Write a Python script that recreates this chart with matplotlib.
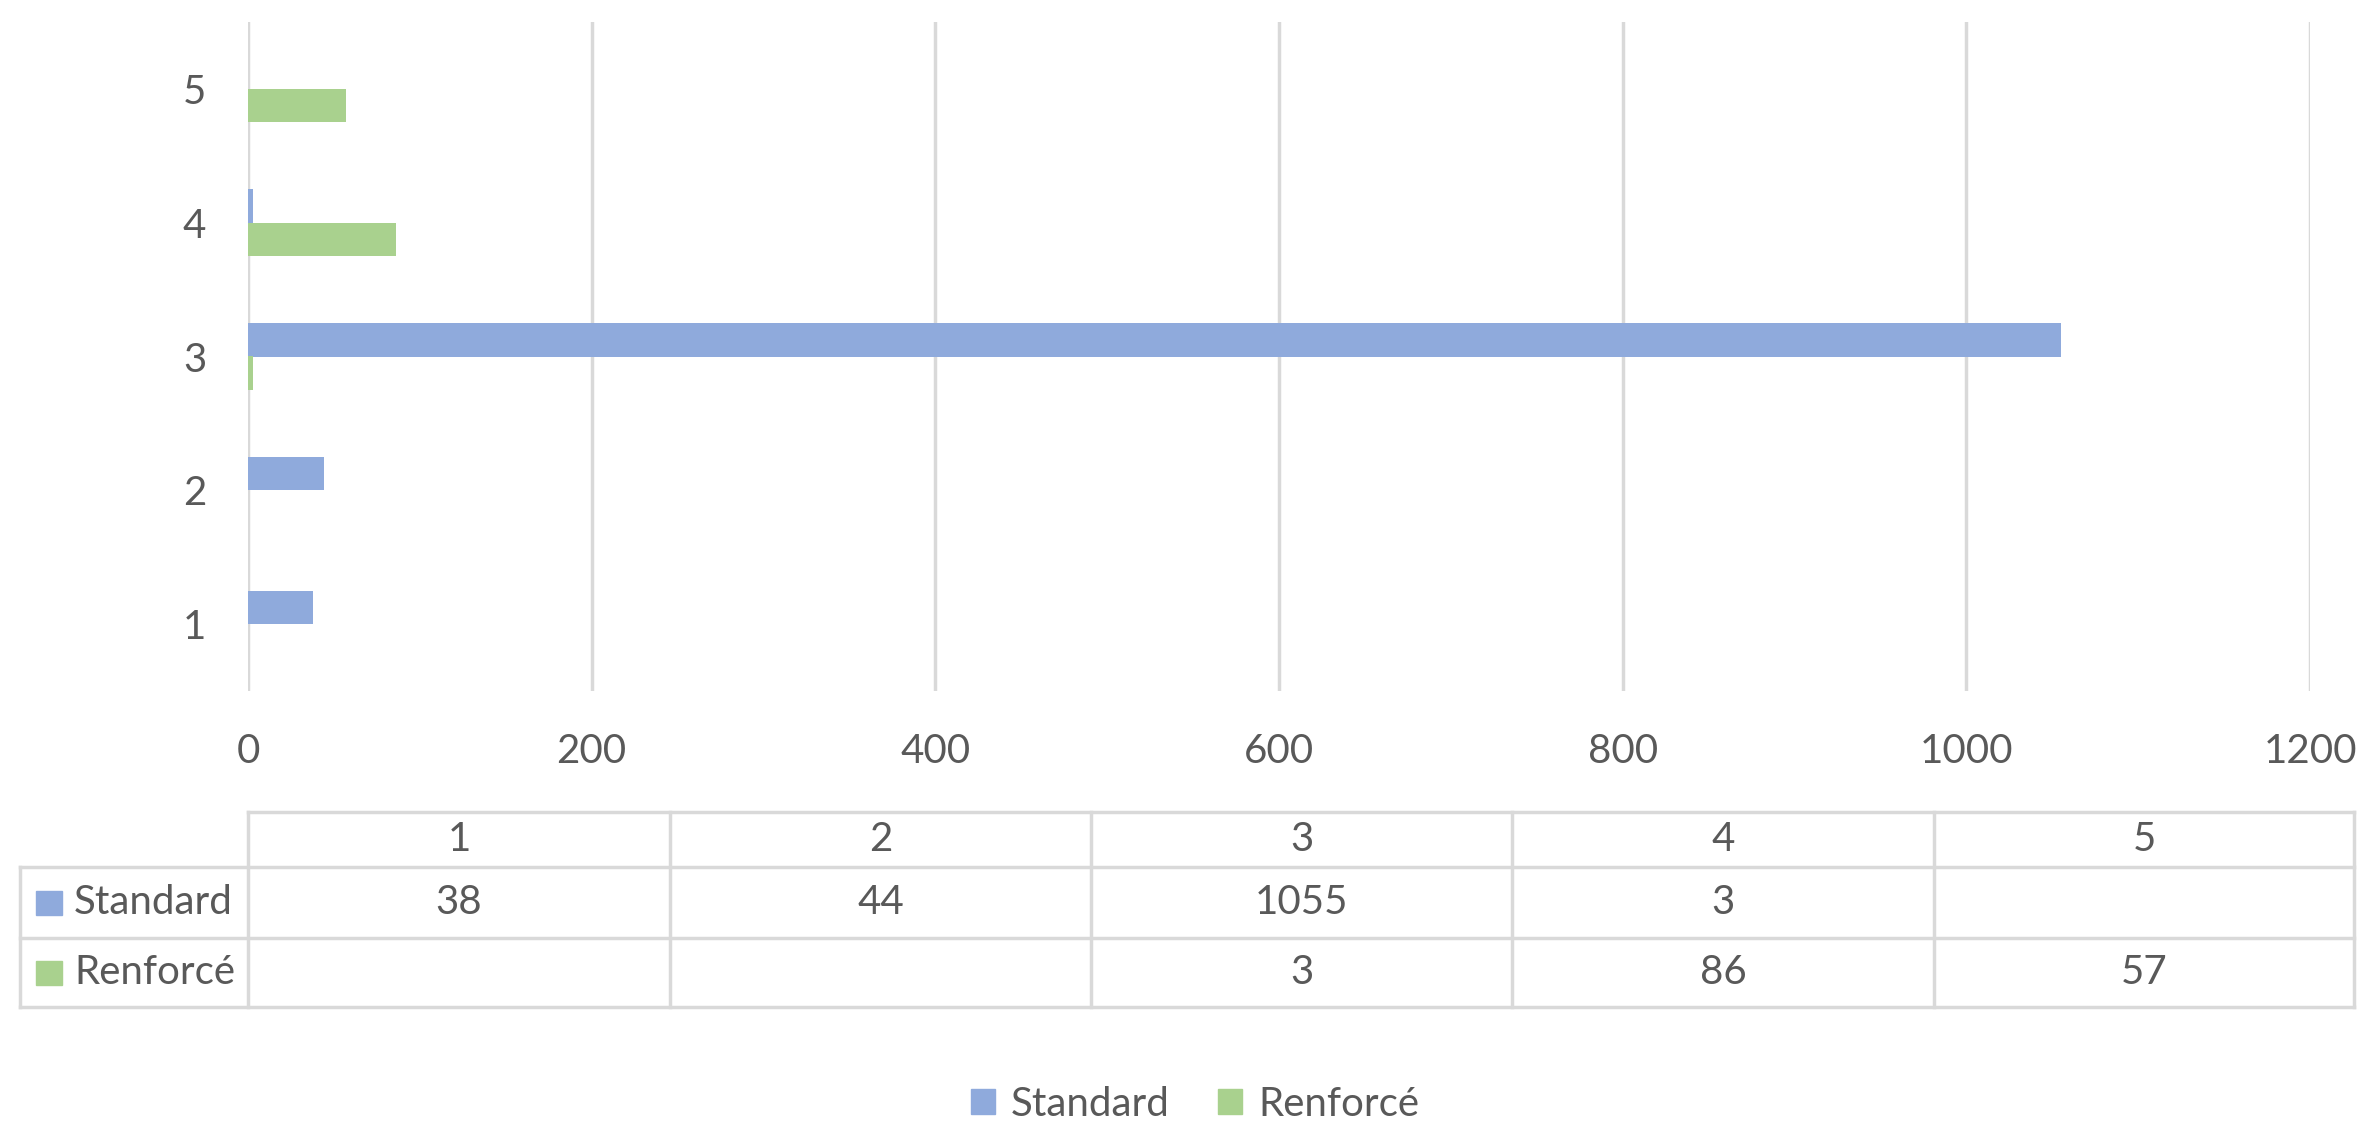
import matplotlib
matplotlib.use("Agg")
import matplotlib.pyplot as plt
from matplotlib.patches import Patch
import numpy as np

plt.rcParams['font.family'] = ['Lato', 'DejaVu Sans']

# data
categories = ["1", "2", "3", "4", "5"]
standard = [38, 44, 1055, 3, None]
renforce = [None, None, 3, 86, 57]
series_names = ["Standard", "Renforcé"]
x_ticks = [0, 200, 400, 600, 800, 1000, 1200]

blue = "#8FAADC"
green = "#A9D18E"
grid_col = "#D9D9D9"
txt_col = "#595959"
fs = 29

W, H = 2367, 1122
fig = plt.figure(figsize=(W / 100, H / 100), dpi=100)

# main bar chart
ax = fig.add_axes([248 / W, 1 - 691 / H, (2310 - 248) / W, (691 - 22) / H])
y = np.arange(1, len(categories) + 1)
bh = 0.25
std_vals = np.array([np.nan if v is None else v for v in standard], dtype=float)
ren_vals = np.array([np.nan if v is None else v for v in renforce], dtype=float)
ax.barh(y + bh / 2, std_vals, height=bh, color=blue, zorder=3)
ax.barh(y - bh / 2, ren_vals, height=bh, color=green, zorder=3)
ax.set_xlim(0, 1200)
ax.set_ylim(0.5, len(categories) + 0.5)
ax.set_xticks(x_ticks)
ax.set_xticklabels([str(t) for t in x_ticks])
ax.set_yticks(y)
ax.set_yticklabels(categories)
ax.tick_params(axis="both", length=0, labelsize=fs, colors=txt_col)
ax.tick_params(axis="x", pad=30)
ax.tick_params(axis="y", pad=30)
for s in ax.spines.values():
    s.set_visible(False)
ax.grid(axis="x", color=grid_col, linewidth=2.5, zorder=0)

# data table below
col_edges_px = [248, 670, 1091, 1512, 1934, 2354]
left_px = 20
row_edges_px = [812, 867, 938, 1007]
tax = fig.add_axes([0, 0, 1, 1])
tax.set_xlim(0, W)
tax.set_ylim(H, 0)
tax.axis("off")
lw = 2.5
# horizontal lines
tax.plot([col_edges_px[0], col_edges_px[-1]], [row_edges_px[0]] * 2, color=grid_col, lw=lw)
for ry in row_edges_px[1:]:
    tax.plot([left_px, col_edges_px[-1]], [ry, ry], color=grid_col, lw=lw)
# vertical lines
for cx in col_edges_px:
    tax.plot([cx, cx], [row_edges_px[0], row_edges_px[-1]], color=grid_col, lw=lw)
tax.plot([left_px, left_px], [row_edges_px[1], row_edges_px[-1]], color=grid_col, lw=lw)

# header row
for i, c in enumerate(categories):
    cx = (col_edges_px[i] + col_edges_px[i + 1]) / 2
    cy = (row_edges_px[0] + row_edges_px[1]) / 2
    tax.text(cx, cy, c, ha="center", va="center", fontsize=fs, color=txt_col)

rows = [standard, renforce]
colors = [blue, green]
for r, (name, vals, col) in enumerate(zip(series_names, rows, colors)):
    cy = (row_edges_px[r + 1] + row_edges_px[r + 2]) / 2
    tax.add_patch(plt.Rectangle((36, cy - 12), 26, 24, color=col))
    tax.text(74, cy, name, ha="left", va="center", fontsize=fs, color=txt_col)
    for i, v in enumerate(vals):
        if v is None:
            continue
        cx = (col_edges_px[i] + col_edges_px[i + 1]) / 2
        tax.text(cx, cy, str(v), ha="center", va="center", fontsize=fs, color=txt_col)

# legend
handles = [Patch(color=blue, label=series_names[0]), Patch(color=green, label=series_names[1])]
fig.legend(handles=handles, loc="center", bbox_to_anchor=(1195 / W, 1 - 1104 / H),
           ncol=2, frameon=False, fontsize=fs, labelcolor=txt_col,
           handlelength=0.6, handleheight=0.6, handletextpad=0.4, columnspacing=1.2)

fig.savefig("out.png", dpi=100)
